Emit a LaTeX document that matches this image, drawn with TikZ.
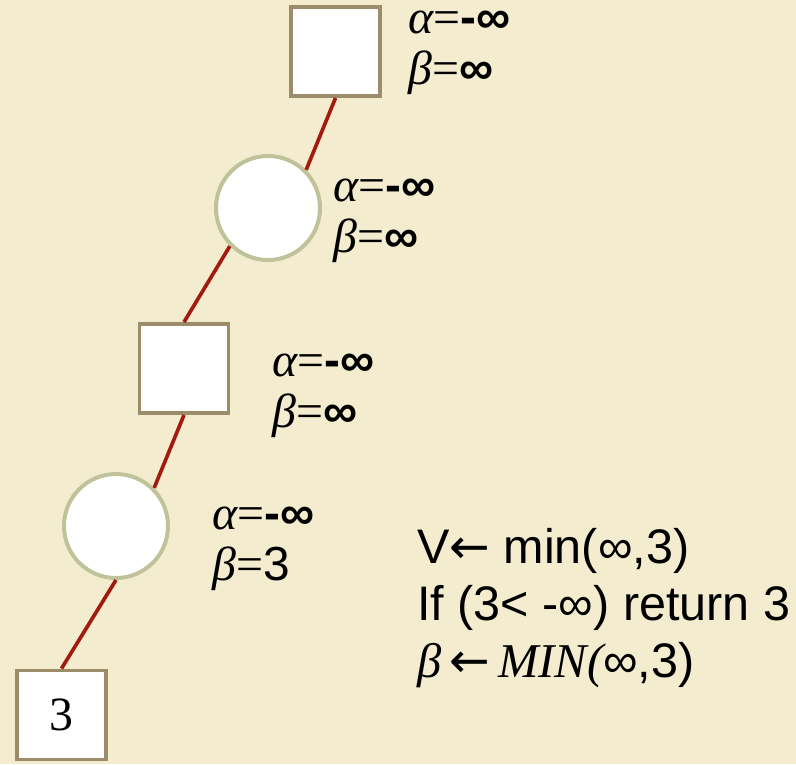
\documentclass[tikz,border=0pt]{standalone}
\usepackage{fontspec}
\setmainfont{Liberation Serif}
\newfontfamily\lsans{Liberation Sans}
\newfontfamily\arrowfont{DejaVu Sans}
\definecolor{parch}{HTML}{F3ECCF}
\definecolor{boxline}{HTML}{9C8C6A}
\definecolor{ballline}{HTML}{C0C29A}
\definecolor{edgered}{HTML}{A31A0E}
\tikzset{
  maxbox/.style  = {rectangle, draw=boxline, fill=white, line width=2.8pt,
                    minimum size=2.225cm, inner sep=0pt,
                    font=\fontsize{34}{36}\selectfont},
  minball/.style = {circle, draw=ballline, fill=white, line width=2.8pt,
                    minimum size=2.6cm, inner sep=0pt},
  edge/.style    = {draw=edgered, line width=2.6pt},
  bounds/.style  = {anchor=base west, align=left, inner sep=0pt,
                    font=\fontsize{34}{35.6}\selectfont},
  note/.style    = {anchor=base west, align=left, inner sep=0pt,
                    font=\lsans\fontsize{34.5}{40.5}\selectfont},
}
\newcommand{\ninf}{\textbf{\lsans -∞}}
\newcommand{\pinf}{\textbf{\lsans ∞}}
\newcommand{\larr}{{\arrowfont ←}}
\newcommand{\albe}[2]{{\itshape α}=#1\\{\itshape β}=#2}

\begin{document}
\begin{tikzpicture}[x=0.025cm, y=-0.025cm]
  \path[use as bounding box, fill=parch] (0,0) rectangle (796,764);

  % game tree, one path down
  \node[maxbox]  (top)  at (335.5,51.5) {};
  \node[minball] (mina) at (268,208)    {};
  \node[maxbox]  (mid)  at (184,368.5)  {};
  \node[minball] (minb) at (116,526)    {};
  \node[maxbox]  (leaf) at (61.5,715)   {3};

  \draw[edge] (top.south) -- (mina.45);
  \draw[edge] (mina.225)  -- (mid.north);
  \draw[edge] (mid.south) -- (minb.45);
  \draw[edge] (minb.south) -- (leaf.north);

  % alpha / beta at each node (anchored on the beta line)
  \node[bounds] (bTop)  at (408,84)  {\albe{\ninf}{\pinf}};
  \node[bounds] (bMina) at (333,252) {\albe{\ninf}{\pinf}};
  \node[bounds] (bMid)  at (272,427) {\albe{\ninf}{\pinf}};
  \node[bounds] (bMinb) at (212,580) {\albe{\ninf}{{\lsans 3}}};

  % update at the lower min node
  \node[note] (upd) at (417,677)
    {V\larr\ min(∞,3)\\
     If (3< -∞) return 3\\
     {\rmfamily\itshape β}\,\larr\,{\rmfamily\itshape MIN(}∞,3)};
\end{tikzpicture}
\end{document}
